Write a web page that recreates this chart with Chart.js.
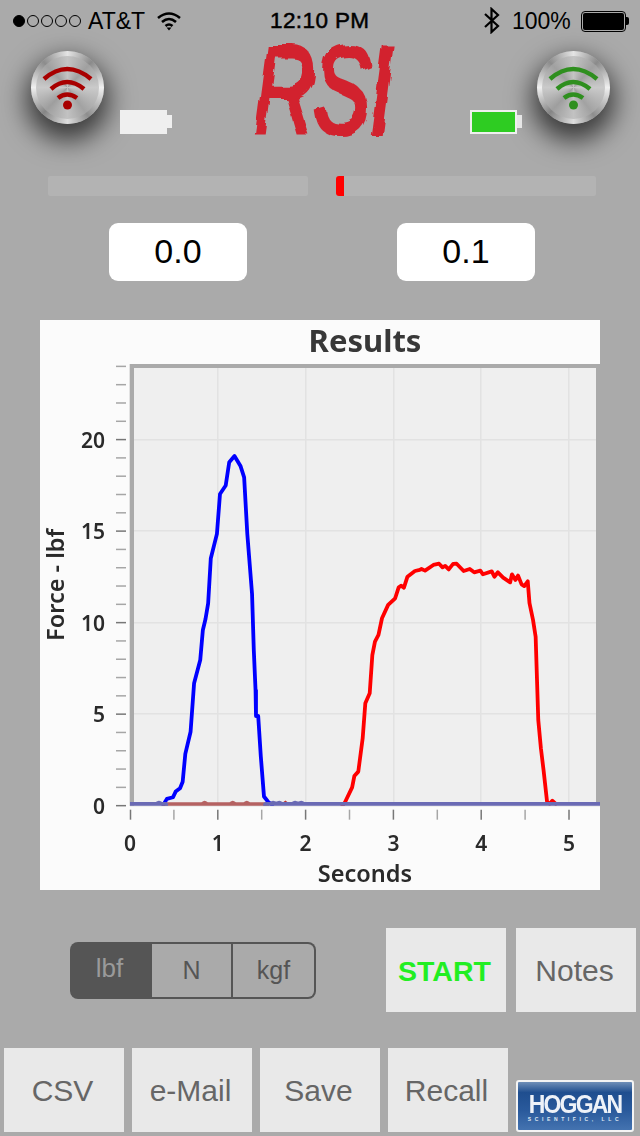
<!DOCTYPE html>
<html>
<head>
<meta charset="utf-8">
<title>RSI Results</title>
<script src="https://cdn.jsdelivr.net/npm/chart.js@4/dist/chart.umd.min.js"></script>
<style>
html, body { margin: 0; padding: 0; }
body { width: 640px; height: 1136px; background: #aaaaaa; position: relative; overflow: hidden; font-family: "Liberation Sans", sans-serif; }
.abs { position: absolute; }
.status { position: absolute; top: 7px; font-size: 23px; line-height: 28px; color: #000; white-space: nowrap; }
.dot { position: absolute; top: 15px; width: 10px; height: 10px; border: 1px solid #000; border-radius: 50%; box-sizing: content-box; }
.knob { position: absolute; top: 51px; width: 73px; height: 73px; border-radius: 50%;
  background: conic-gradient(#e4e4e4, #8a8a8a 12%, #f0f0f0 25%, #8d8d8d 40%, #dedede 50%, #858585 62%, #f0f0f0 75%, #8c8c8c 88%, #e4e4e4);
  box-shadow: 0 12px 26px 5px rgba(0,0,0,.66); }
.knob::after { content: ""; position: absolute; left: 5px; top: 5px; right: 5px; bottom: 5px; border-radius: 50%;
  background: conic-gradient(#c4c4c4, #a0a0a0 12%, #cacaca 25%, #a2a2a2 40%, #c2c2c2 50%, #9e9e9e 62%, #cacaca 75%, #a0a0a0 88%, #c4c4c4); }
.knob svg { position: absolute; left: 0; top: 0; z-index: 1; }
.bar { position: absolute; top: 176px; width: 260px; height: 20px; background: #b3b3b3; border-radius: 2px; }
.value { position: absolute; top: 223px; width: 138px; height: 58px; background: #fff; border-radius: 9px; text-align: center; font-size: 34px; line-height: 56px; color: #000; }
.btn { position: absolute; width: 120px; height: 84px; background: #e9e9e9; text-align: center; font-size: 30px; line-height: 86px; color: #666; text-indent: -3px; }
.seg { position: absolute; top: 942px; height: 57px; text-align: center; font-size: 25px; line-height: 53px; color: #555; box-sizing: border-box; }
#panel { position: absolute; left: 40px; top: 320px; width: 560px; height: 570px; background: #fbfbfb; }
</style>
</head>
<body>

<svg width="0" height="0" style="position:absolute">
  <filter id="rough" x="-10%" y="-10%" width="120%" height="120%">
    <feTurbulence type="fractalNoise" baseFrequency="0.045" numOctaves="2" seed="4"/>
    <feDisplacementMap in="SourceGraphic" scale="9"/>
  </filter>
</svg>

<!-- status bar -->
<div class="dot" style="left:13px;background:#000"></div>
<div class="dot" style="left:27px"></div>
<div class="dot" style="left:41px"></div>
<div class="dot" style="left:55px"></div>
<div class="dot" style="left:69px"></div>
<div class="status" style="left:88px">AT&amp;T</div>
<svg class="abs" style="left:156px;top:10px" width="26" height="22" fill="none" stroke="#000" stroke-width="2.6">
  <path d="M2 8 Q13 -1 24 8"/><path d="M6 12 Q13 6 20 12"/><path d="M9.5 16 Q13 13 16.5 16"/>
  <path d="M10.5 17.5 L13 20.5 L15.5 17.5 Z" fill="#000" stroke="none"/>
</svg>
<div class="status" style="left:270px;-webkit-text-stroke:.5px #000;font-size:22.5px;letter-spacing:.4px">12:10 PM</div>
<svg class="abs" style="left:483px;top:7px" width="18" height="27" fill="none" stroke="#000" stroke-width="2.2">
  <path d="M2 7 L15 19 L8.5 25 L8.5 2 L15 8 L2 20"/>
</svg>
<div class="status" style="left:512px">100%</div>
<div class="abs" style="left:581px;top:11px;width:43px;height:19px;border:1px solid #000;border-radius:4px;box-sizing:content-box">
  <div style="position:absolute;left:1px;top:1px;right:1px;bottom:1px;background:#000;border-radius:2px"></div>
</div>
<div class="abs" style="left:626px;top:17px;width:3px;height:8px;background:#000;border-radius:0 2px 2px 0"></div>

<!-- header -->
<div class="knob" style="left:31px">
  <svg width="73" height="73" fill="none" stroke="#a80000" stroke-width="4.5">
    <path d="M13 28 Q36 8 60 28"/><path d="M20 38 Q36 24 53 38"/><path d="M27 47 Q36 40 46 47"/>
    <circle cx="36.5" cy="54" r="4.5" fill="#a80000" stroke="none"/>
  </svg>
</div>
<div class="knob" style="left:537px">
  <svg width="73" height="73" fill="none" stroke="#2f8f1f" stroke-width="4.5">
    <path d="M13 28 Q36 8 60 28"/><path d="M20 38 Q36 24 53 38"/><path d="M27 47 Q36 40 46 47"/>
    <circle cx="36.5" cy="54" r="4.5" fill="#2f8f1f" stroke="none"/>
  </svg>
</div>

<div class="abs" style="left:120px;top:110px;width:47px;height:24px;background:#efefef"></div>
<div class="abs" style="left:167px;top:115px;width:5px;height:13px;background:#efefef"></div>
<div class="abs" style="left:470px;top:110px;width:47px;height:24px;background:#2ecc22;border:2px solid #efefef;box-sizing:border-box"></div>
<div class="abs" style="left:517px;top:115px;width:5px;height:13px;background:#e6e6e6"></div>

<div class="abs" style="left:254px;top:27px;width:134px;height:112px;overflow:visible;filter:url(#rough)">
  <div style="font:italic 400 118px 'Liberation Sans',sans-serif;color:#d2232f;-webkit-text-stroke:4px #d2232f;line-height:118px;transform-origin:0 0;transform:scale(.72,1.06);letter-spacing:-2px;white-space:nowrap">RSI</div>
</div>

<div class="bar" style="left:48px"></div>
<div class="bar" style="left:336px"></div>
<div class="abs" style="left:336px;top:176px;width:8px;height:20px;background:#ff0000;border-radius:3px 0 0 3px"></div>

<div class="value" style="left:109px">0.0</div>
<div class="value" style="left:397px">0.1</div>

<!-- chart -->
<div id="panel"><canvas id="resultsChart" width="560" height="570"></canvas></div>

<!-- bottom controls -->
<div class="seg" style="left:70px;width:82px;background:#555;color:#9a9a9a;border-radius:8px 0 0 8px;text-indent:-3px;font-size:26px">lbf</div>
<div class="seg" style="left:152px;width:81px;border-top:2px solid #555;border-bottom:2px solid #555;border-right:2px solid #555">N</div>
<div class="seg" style="left:233px;width:83px;border:2px solid #555;border-left:0;border-radius:0 8px 8px 0">kgf</div>

<div class="btn" style="left:386px;top:928px;color:#22ee22;font-weight:700;font-size:28.5px">START</div>
<div class="btn" style="left:516px;top:928px">Notes</div>
<div class="btn" style="left:4px;top:1048px">CSV</div>
<div class="btn" style="left:132px;top:1048px">e-Mail</div>
<div class="btn" style="left:260px;top:1048px">Save</div>
<div class="btn" style="left:388px;top:1048px">Recall</div>

<div class="abs" style="left:516px;top:1080px;width:118px;height:52px;box-sizing:border-box;border:2px solid #f4f4f4;border-radius:3px;background:linear-gradient(#6f8fb8 0,#1f4e8f 22%,#2a5a9c 60%,#4473b0 100%);text-align:center;color:#fff;overflow:hidden">
  <div style="font:700 25px/24px 'Liberation Sans',sans-serif;letter-spacing:-2px;margin-top:10px;color:#eef2f8;transform:scaleX(.92)">HOGGAN</div>
  <div style="font:700 5px/6px 'Liberation Sans',sans-serif;letter-spacing:3.6px;color:#dfe7f2">SCIENTIFIC, LLC</div>
</div>

<script>
// Values
const blueTime = [0.38, 0.42, 0.49, 0.52, 0.57, 0.60, 0.63, 0.69, 0.73, 0.80, 0.83, 0.86, 0.89, 0.92, 0.99, 1.025, 1.09, 1.13, 1.19, 1.26, 1.30, 1.336, 1.39, 1.41, 1.43, 1.435, 1.46, 1.49, 1.526, 1.575, 1.62];
const blueForce = [0.05, 0.37, 0.46, 0.77, 0.95, 1.31, 2.83, 4.04, 6.69, 7.96, 9.6, 10.2, 11.05, 13.5, 14.85, 17.03, 17.49, 18.76, 19.1, 18.54, 17.94, 14.85, 11.57, 8.5, 6.3, 4.9, 4.9, 2.68, 0.5, 0.2, 0.05];

const redTime = [2.42, 2.45, 2.53, 2.555, 2.60, 2.65, 2.68, 2.73, 2.76, 2.79, 2.83, 2.87, 2.94, 3.02, 3.06, 3.09, 3.12, 3.16, 3.245, 3.30, 3.32, 3.36, 3.455, 3.52, 3.56, 3.59, 3.63, 3.68, 3.72, 3.80, 3.87, 3.92, 3.99, 4.02, 4.12, 4.15, 4.19, 4.25, 4.33, 4.35, 4.39, 4.42, 4.46, 4.49, 4.53, 4.55, 4.59, 4.62, 4.65, 4.68, 4.71, 4.75, 4.78, 4.81, 4.85];
const redForce = [0, 0.2, 1.0, 1.62, 1.86, 3.68, 5.59, 6.14, 8.23, 8.96, 9.33, 10.24, 10.97, 11.33, 11.93, 12.02, 11.91, 12.51, 12.82, 12.88, 12.93, 12.84, 13.15, 13.22, 13.02, 13.1, 12.91, 13.21, 13.22, 12.82, 12.93, 12.75, 12.84, 12.64, 12.8, 12.51, 12.75, 12.46, 12.2, 12.64, 12.33, 12.57, 12.09, 12.0, 12.26, 11.06, 10.15, 9.23, 4.68, 3.13, 1.95, 0.22, 0.1, 0.27, 0.1];

// the flat traces along zero, purple where both sensors overlap
const idlePurpleTimeA = [0, 0.30, 0.33, 0.36, 0.40];
const idlePurpleForceA = [0.04, 0.04, 0.1, 0.04, 0.04];
const idleBrownTime = [0.40, 0.82, 0.85, 0.88, 1.14, 1.17, 1.20, 1.30, 1.33, 1.36, 1.55];
const idleBrownForce = [0.02, 0.02, 0.1, 0.02, 0.02, 0.1, 0.02, 0.02, 0.1, 0.02, 0.02];
const idlePurpleTimeB = [1.55, 1.60, 1.63, 1.66, 1.70, 1.73, 1.78, 1.85, 1.88, 1.91, 1.95, 1.98, 2.01, 5.36];
const idlePurpleForceB = [0.04, 0.04, 0.1, 0.04, 0.1, 0.04, 0.04, 0.04, 0.1, 0.04, 0.1, 0.04, 0.04, 0.04];
const blipTime = [1.74, 1.77, 1.80];
const blipForce = [0.1, 0.22, 0.1];

const xTickStep = 0.5;
const yTickStep = 1;
const xMax = 5.353;
const yMax = 24.13;

function toPoints(xs, ys) {
    return xs.map((x, i) => ({ x: x, y: ys[i] }));
}

function lineSet(label, xs, ys, color, width) {
    return {
        label: label,
        data: toPoints(xs, ys),
        borderColor: color,
        borderWidth: width,
        pointRadius: 0,
        tension: 0,
        fill: false,
        clip: 0,
        borderJoinStyle: 'round',
        borderCapStyle: 'round',
    };
}

const LABEL_FONT = '"Noto Sans", sans-serif';

// gray frame and plot background, the app draws them itself
const plotFrame = {
    id: 'plotFrame',
    beforeDraw(chart) {
        const { ctx, chartArea: a } = chart;
        ctx.save();
        ctx.fillStyle = '#efefef';
        ctx.fillRect(a.left, a.top, a.right - a.left, a.bottom - a.top);
        ctx.restore();
    },
    beforeDatasetsDraw(chart) {
        const { ctx, chartArea: a } = chart;
        ctx.save();
        ctx.fillStyle = '#aaaaaa';
        ctx.fillRect(a.left, a.top, 4, a.bottom - a.top);
        ctx.fillRect(a.left, a.top, a.right - a.left, 4);
        ctx.fillRect(a.right - 4, a.top, 4, a.bottom - a.top - 3);
        ctx.restore();
    }
};

// tick marks stand off the axis by a small gap, not possible with grid options
const axisTicks = {
    id: 'axisTicks',
    afterDraw(chart) {
        const { ctx, chartArea: a, scales } = chart;
        ctx.save();
        ctx.lineWidth = 1.5;
        scales.y.ticks.forEach(t => {
            const y = Math.min(scales.y.getPixelForValue(t.value), a.bottom);
            ctx.strokeStyle = t.value % 5 === 0 ? '#777777' : '#a6a6a6';
            ctx.beginPath();
            ctx.moveTo(a.left - 14, y);
            ctx.lineTo(a.left - 4, y);
            ctx.stroke();
        });
        ctx.lineWidth = 1.5;
        scales.x.ticks.forEach(t => {
            const x = scales.x.getPixelForValue(t.value) + (t.value === 0 ? 0.5 : 0);
            ctx.strokeStyle = Number.isInteger(t.value) ? '#777777' : '#a6a6a6';
            ctx.beginPath();
            ctx.moveTo(x, a.bottom + 4);
            ctx.lineTo(x, a.bottom + 14);
            ctx.stroke();
        });
        ctx.restore();
    }
};

new Chart(document.getElementById('resultsChart'), {
    type: 'line',
    data: {
        datasets: [
            lineSet('idle a', idlePurpleTimeA, idlePurpleForceA, '#6a6ab4', 6),
            lineSet('idle b', idlePurpleTimeB, idlePurpleForceB, '#6a6ab4', 6),
            lineSet('idle c', idleBrownTime, idleBrownForce, '#b56262', 6),
            lineSet('blip', blipTime, blipForce, '#c03030', 2),
            lineSet('Blue', blueTime, blueForce, '#0000ff', 3.8),
            lineSet('Red', redTime, redForce, '#ff0000', 3.8),
        ]
    },
    plugins: [plotFrame, axisTicks],
    options: {
        responsive: false,
        devicePixelRatio: 1,
        animation: false,
        layout: { padding: 0 },
        plugins: {
            legend: { display: false },
            tooltip: { enabled: false },
            title: {
                display: true,
                text: 'Results',
                fullSize: false,
                color: '#383838',
                font: { family: LABEL_FONT, size: 31, weight: '700', lineHeight: 1.2 },
                padding: { top: 5, bottom: 1.8 }
            }
        },
        scales: {
            x: {
                type: 'linear',
                min: 0,
                max: xMax,
                afterFit(scale) {
                    scale.height = 84.33;
                    scale.paddingLeft = 0;
                    scale.paddingRight = 0;
                },
                border: { display: false },
                grid: {
                    drawTicks: false,
                    lineWidth: 1.5,
                    color: ctx => Number.isInteger(ctx.tick.value) ? '#e2e2e2' : 'rgba(0,0,0,0)'
                },
                ticks: {
                    stepSize: xTickStep,
                    autoSkip: false,
                    includeBounds: false,
                    maxRotation: 0,
                    padding: 27,
                    color: '#2a2a2a',
                    font: { family: LABEL_FONT, size: 21, weight: '600' },
                    callback: v => Number.isInteger(v) ? String(v) : ''
                },
                title: {
                    display: true,
                    text: 'Seconds',
                    color: '#2a2a2a',
                    font: { family: LABEL_FONT, size: 23.5, weight: '600', lineHeight: 1.2 },
                    padding: { top: 0, bottom: 1 }
                }
            },
            y: {
                min: 0,
                max: yMax,
                afterFit(scale) { scale.width = 90; },
                border: { display: false },
                grid: {
                    drawTicks: false,
                    lineWidth: 1.5,
                    color: ctx => ctx.tick.value % 5 === 0 ? '#e2e2e2' : 'rgba(0,0,0,0)'
                },
                ticks: {
                    stepSize: yTickStep,
                    autoSkip: false,
                    includeBounds: false,
                    padding: 25,
                    labelOffset: 2,
                    color: '#2a2a2a',
                    font: { family: LABEL_FONT, size: 21, weight: '600' },
                    callback: v => v % 5 === 0 ? String(v) : ''
                },
                title: {
                    display: true,
                    text: 'Force - lbf',
                    color: '#2a2a2a',
                    font: { family: LABEL_FONT, size: 23.5, weight: '600', lineHeight: 1.2 },
                    padding: { top: 3, bottom: 0 }
                }
            }
        }
    }
});
</script>
</body>
</html>
